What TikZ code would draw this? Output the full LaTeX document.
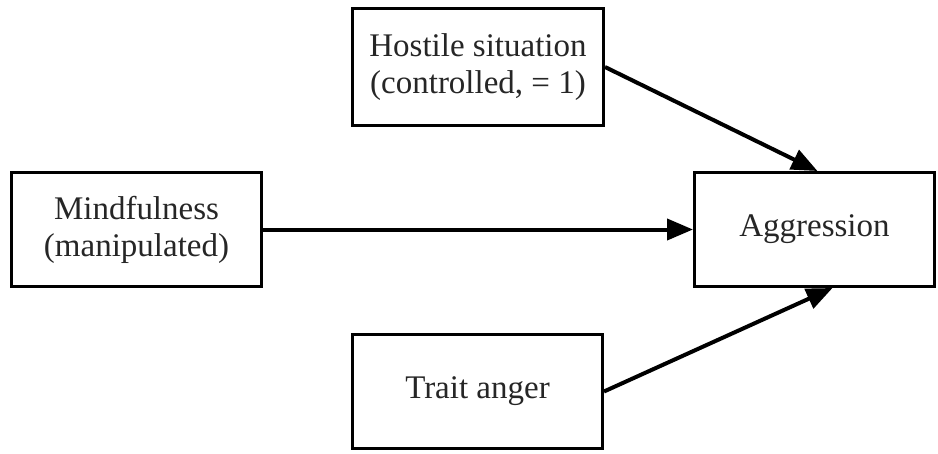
\documentclass[tikz,border=0pt]{standalone}
\usepackage{fontspec}
\setmainfont{Liberation Serif}
\usetikzlibrary{arrows.meta}
\begin{document}
\begin{tikzpicture}[x=1pt,y=-1pt,
  varbox/.style={draw=black, line width=3pt, fill=white, align=center, inner sep=0pt,
    font=\fontsize{33}{37}\selectfont, text=black!85},
  path/.style={line width=4pt, -{Triangle[length=26pt,width=21pt]}}]
\useasboundingbox (0,0) rectangle (938,453);
\node[varbox, minimum width=251pt, minimum height=117pt] (hos) at (478,67) {Hostile situation\\(controlled, = 1)};
\node[varbox, minimum width=250pt, minimum height=114pt] (mind) at (136.5,229.5) {Mindfulness\\(manipulated)};
\node[varbox, minimum width=240pt, minimum height=114pt] (agg) at (814.5,229.5) {Aggression};
\node[varbox, minimum width=250pt, minimum height=114pt] (trait) at (477.5,391.5) {Trait anger};
\draw[path] (hos.east) -- ([xshift=3pt]agg.north);
\draw[path] (mind.east) -- (agg.west);
\draw[path] (trait.east) -- ([xshift=18pt]agg.south);
\end{tikzpicture}
\end{document}
